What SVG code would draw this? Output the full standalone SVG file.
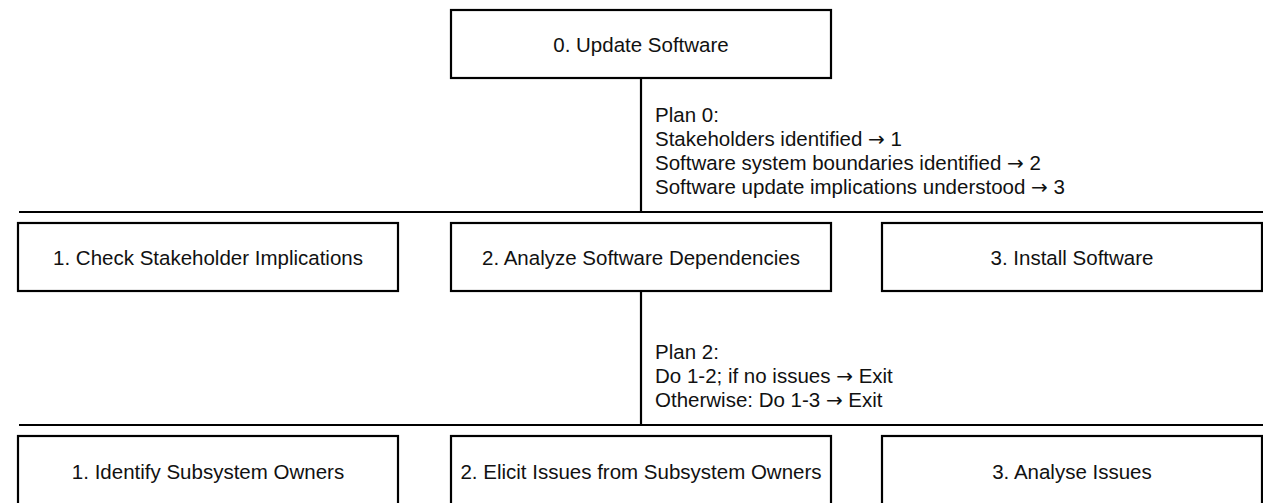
<svg xmlns="http://www.w3.org/2000/svg" width="1263" height="503" viewBox="0 0 1263 503">
  <style>
    .box { fill: #ffffff; stroke: #000000; stroke-width: 2.2; }
    .wire { fill: none; stroke: #000000; stroke-width: 2.2; }
    .label { font-family: "Liberation Sans", Arial, Helvetica, sans-serif; font-size: 20.5px; fill: #111111; text-anchor: middle; }
    .plan { font-family: "Liberation Sans", Arial, Helvetica, sans-serif; font-size: 20.5px; fill: #111111; }
    .arrow { font-family: "DejaVu Sans", sans-serif; font-size: 20px; }
  </style>
  <rect width="1263" height="503" fill="#ffffff"/>

  <!-- hierarchy connectors -->
  <g id="connectors">
    <line class="wire" x1="641" y1="78" x2="641" y2="212"/>
    <line class="wire" x1="19" y1="212" x2="1263" y2="212"/>
    <line class="wire" x1="641" y1="291" x2="641" y2="425"/>
    <line class="wire" x1="19" y1="425" x2="1263" y2="425"/>
  </g>

  <!-- plans attached to the connectors -->
  <g id="plan-0">
    <text class="plan" x="655" y="122">Plan 0:</text>
    <text class="plan" x="655" y="146">Stakeholders identified <tspan class="arrow">→</tspan> 1</text>
    <text class="plan" x="655" y="170">Software system boundaries identified <tspan class="arrow">→</tspan> 2</text>
    <text class="plan" x="655" y="194">Software update implications understood <tspan class="arrow">→</tspan> 3</text>
  </g>
  <g id="plan-2">
    <text class="plan" x="655" y="359">Plan 2:</text>
    <text class="plan" x="655" y="383">Do 1-2; if no issues <tspan class="arrow">→</tspan> Exit</text>
    <text class="plan" x="655" y="407">Otherwise: Do 1-3 <tspan class="arrow">→</tspan> Exit</text>
  </g>

  <!-- level 0 -->
  <g id="task-0">
    <rect class="box" x="451" y="10" width="380" height="68"/>
    <text class="label" x="641" y="51.5">0. Update Software</text>
  </g>

  <!-- level 1 -->
  <g id="task-1">
    <rect class="box" x="18" y="223" width="380" height="68"/>
    <text class="label" x="208" y="264.5">1. Check Stakeholder Implications</text>
  </g>
  <g id="task-2">
    <rect class="box" x="451" y="223" width="380" height="68"/>
    <text class="label" x="641" y="264.5">2. Analyze Software Dependencies</text>
  </g>
  <g id="task-3">
    <rect class="box" x="882" y="223" width="380" height="68"/>
    <text class="label" x="1072" y="264.5">3. Install Software</text>
  </g>

  <!-- level 2 (under task 2) -->
  <g id="task-2-1">
    <rect class="box" x="18" y="436" width="380" height="72"/>
    <text class="label" x="208" y="479">1. Identify Subsystem Owners</text>
  </g>
  <g id="task-2-2">
    <rect class="box" x="451" y="436" width="380" height="72"/>
    <text class="label" x="641" y="479">2. Elicit Issues from Subsystem Owners</text>
  </g>
  <g id="task-2-3">
    <rect class="box" x="882" y="436" width="380" height="72"/>
    <text class="label" x="1072" y="479">3. Analyse Issues</text>
  </g>
</svg>
